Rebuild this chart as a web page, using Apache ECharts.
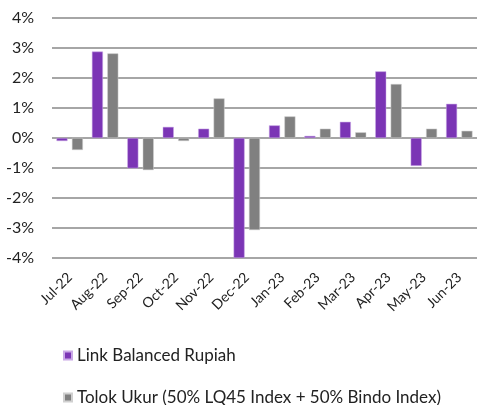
<!DOCTYPE html>
<html>
<head>
<meta charset="utf-8">
<script src="https://cdn.jsdelivr.net/npm/echarts@6/dist/echarts.min.js"></script>
<style>
  html, body { margin: 0; padding: 0; background: #fff; }
  #chart { width: 478px; height: 405px; }
</style>
</head>
<body>
<div id="chart"></div>
<script>
// monthly returns, %
let months = ['Jul-22', 'Aug-22', 'Sep-22', 'Oct-22', 'Nov-22', 'Dec-22', 'Jan-23', 'Feb-23', 'Mar-23', 'Apr-23', 'May-23', 'Jun-23'];
let fundReturns = [-0.1, 2.88, -1.01, 0.37, 0.31, -4.0, 0.42, 0.07, 0.54, 2.22, -0.93, 1.14];
let benchReturns = [-0.4, 2.82, -1.07, -0.1, 1.32, -3.07, 0.72, 0.31, 0.19, 1.8, 0.31, 0.24];
let fundName = 'Link Balanced Rupiah';
let benchName = 'Tolok Ukur (50% LQ45 Index + 50% Bindo Index)';

let myChart = echarts.init(document.getElementById('chart'));
let fontName = 'Lato, "Open Sans", sans-serif';

function legendAt(name, top) {
    return {
        left: 58,
        top: top,
        itemWidth: 8,
        itemHeight: 8,
        icon: 'rect',
        textStyle: {fontSize: 17, color: '#222', fontFamily: fontName},
        data: [name]
    };
}

let option = {
    animation: false,
    textStyle: {fontFamily: fontName},
    grid: {left: 52, right: 1, top: 18, bottom: 147},
    legend: [legendAt(fundName, 342), legendAt(benchName, 384)],
    xAxis: {
        type: 'category',
        data: months,
        axisLine: {show: false},
        axisTick: {show: false},
        axisLabel: {
            rotate: 45,
            interval: 0,
            fontSize: 14,
            color: '#222',
            margin: 17
        }
    },
    yAxis: {
        type: 'value',
        min: -4,
        max: 4,
        interval: 1,
        axisLine: {show: false},
        axisTick: {show: false},
        axisLabel: {
            formatter: '{value}%',
            fontSize: 16,
            color: '#222',
            margin: 18
        },
        splitLine: {lineStyle: {color: '#a6a6a6', width: 2}}
    },
    series: [
        {
            name: fundName,
            type: 'bar',
            data: fundReturns,
            barWidth: 11,
            barGap: '40%',
            itemStyle: {color: '#7b35b5', borderColor: '#c9a8e6', borderWidth: 0.5}
        },
        {
            name: benchName,
            type: 'bar',
            data: benchReturns,
            barWidth: 11,
            itemStyle: {color: '#808080', borderColor: '#d0d0d0', borderWidth: 0.5}
        }
    ]
};
myChart.setOption(option);
</script>
</body>
</html>
